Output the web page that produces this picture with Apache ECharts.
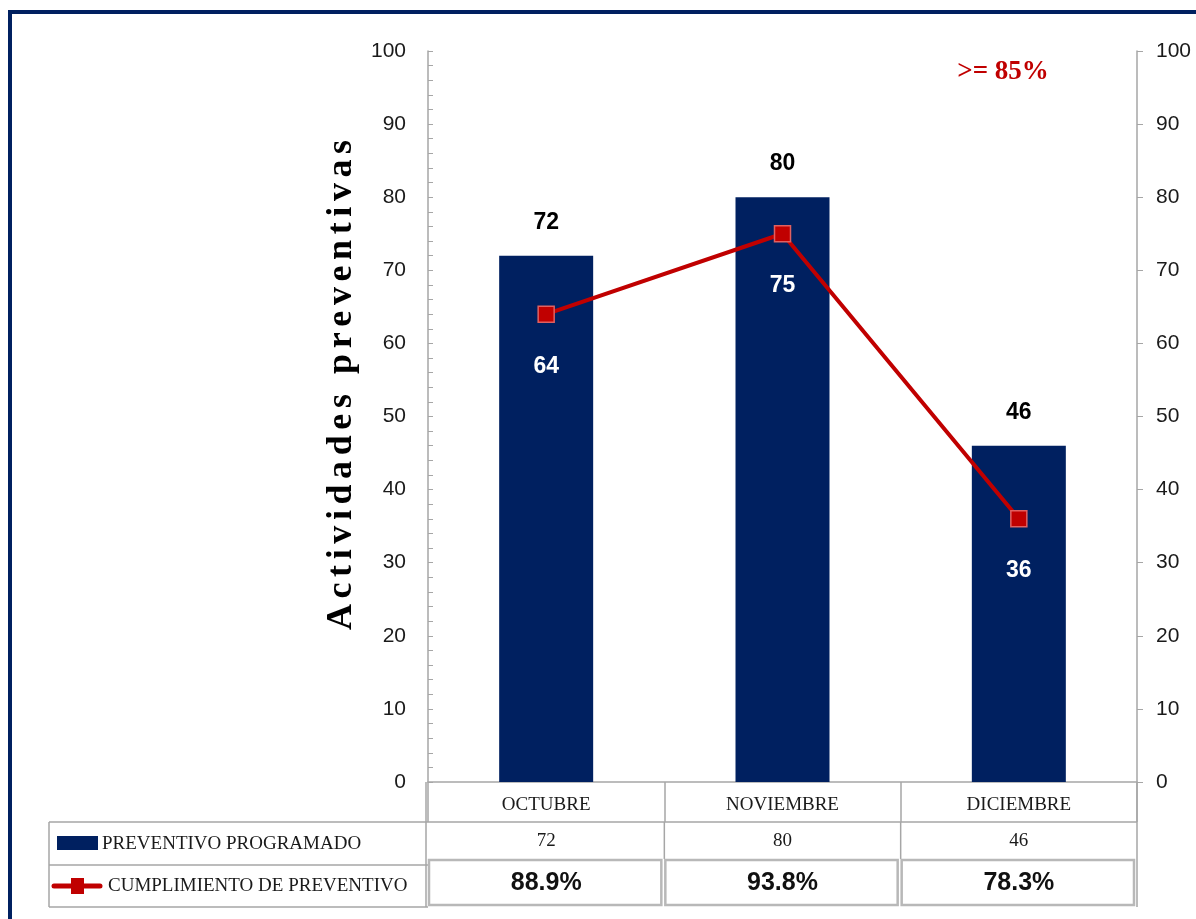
<!DOCTYPE html>
<html>
<head>
<meta charset="utf-8">
<script src="https://cdn.jsdelivr.net/npm/echarts@6/dist/echarts.min.js"></script>
<style>
  html, body { margin: 0; padding: 0; background: #fff; }
  #chart { width: 1196px; height: 919px; }
</style>
</head>
<body>
<div id="chart"></div>
<script>
// Monthly preventive maintenance: scheduled vs. executed activities
const categories = ['OCTUBRE', 'NOVIEMBRE', 'DICIEMBRE'];
const programado = [72, 80, 46];          // PREVENTIVO PROGRAMADO (bars)
const ejecutado = [64, 75, 36];           // executed activities (line)
const cumplimiento = [88.9, 93.8, 78.3];  // CUMPLIMIENTO DE PREVENTIVO (%)
const axisMin = 0, axisMax = 100, axisStep = 10;
const axisTitle = 'Actividades preventivas';
const metaLabel = '>= 85%';

const NAVY = '#002060';
const RED = '#C00000';
const GRID_GRAY = '#a6a6a6';
const NUM_FONT = '"Liberation Sans Narrow", "Liberation Sans", Arial, sans-serif';
const SERIF = '"Liberation Serif", "Times New Roman", serif';

const chart = echarts.init(document.getElementById('chart'), null, { renderer: 'canvas' });

const grid = { left: 428, right: 59, top: 51, bottom: 137 };

chart.setOption({
  animation: false,
  backgroundColor: '#ffffff',
  grid: grid,
  xAxis: {
    type: 'category',
    data: categories,
    axisLine: { show: true, lineStyle: { color: GRID_GRAY, width: 1.5 } },
    axisTick: { show: true, length: 40, lineStyle: { color: GRID_GRAY, width: 1.5 } },
    axisLabel: { margin: 14, fontFamily: SERIF, fontSize: 19, color: '#1a1a1a' }
  },
  yAxis: [
    {
      type: 'value', min: axisMin, max: axisMax, interval: axisStep,
      axisLine: { show: true, lineStyle: { color: GRID_GRAY, width: 1.5 } },
      axisTick: { show: true, inside: true, length: 5, lineStyle: { color: GRID_GRAY } },
      minorTick: { show: true, splitNumber: 5, length: 5, lineStyle: { color: GRID_GRAY } },
      splitLine: { show: false },
      axisLabel: { margin: 22, fontFamily: NUM_FONT, fontSize: 21, color: '#1a1a1a' }
    },
    {
      type: 'value', min: axisMin, max: axisMax, interval: axisStep, position: 'right',
      axisLine: { show: true, lineStyle: { color: GRID_GRAY, width: 1.5 } },
      axisTick: { show: true, inside: false, length: 6, lineStyle: { color: GRID_GRAY } },
      splitLine: { show: false },
      axisLabel: { margin: 19, fontFamily: NUM_FONT, fontSize: 21, color: '#1a1a1a' }
    }
  ],
  series: [
    {
      name: 'PREVENTIVO PROGRAMADO',
      type: 'bar',
      data: programado,
      barWidth: 94,
      itemStyle: { color: NAVY },
      label: {
        show: true, position: 'top', distance: 22,
        fontFamily: NUM_FONT, fontWeight: 'bold', fontSize: 23, color: '#000'
      },
      z: 2
    },
    {
      name: 'CUMPLIMIENTO DE PREVENTIVO',
      type: 'line',
      data: ejecutado,
      lineStyle: { color: RED, width: 4 },
      symbol: 'rect', symbolSize: 16,
      itemStyle: { color: RED, borderColor: '#e06060', borderWidth: 1.5 },
      label: {
        show: true, position: 'bottom', distance: 32,
        fontFamily: NUM_FONT, fontWeight: 'bold', fontSize: 23, color: '#ffffff'
      },
      z: 3
    }
  ]
});

// Vertical axis title, set letter by letter so it can be tracked out
function spacedTitle(text, font, spacing, cx, cy) {
  const ctx = document.createElement('canvas').getContext('2d');
  ctx.font = font;
  const widths = Array.from(text).map(function (ch) { return ctx.measureText(ch).width; });
  const total = widths.reduce(function (a, b) { return a + b; }, 0) + spacing * (widths.length - 1);
  const children = [];
  let x = -total / 2;
  Array.from(text).forEach(function (ch, i) {
    children.push({ type: 'text', x: x, y: 0,
      style: { text: ch, font: font, fill: '#000', verticalAlign: 'middle' } });
    x += widths[i] + spacing;
  });
  return { type: 'group', x: cx, y: cy, rotation: Math.PI / 2, children: children };
}

// Data table beneath the plot area, plus frame and target note
function buildGraphics() {
  const W = 1196, H = 919;
  const gLeft = grid.left, gRight = W - grid.right, gBottom = H - grid.bottom;
  const row1Bottom = gBottom + 40;   // category row
  const row2Bottom = row1Bottom + 37; // programado row
  const tableBottom = row1Bottom + 85;
  const legendLeft = 49;
  const catW = (gRight - gLeft) / categories.length;
  const lineGray = { stroke: GRID_GRAY, lineWidth: 1.5 };
  const els = [];

  // outer frame
  els.push({ type: 'rect', shape: { x: 10, y: 12, width: W + 20, height: H + 20 },
    style: { fill: 'none', stroke: NAVY, lineWidth: 4 }, z: 100 });

  // axis title
  els.push(spacedTitle(axisTitle, 'bold 36px ' + SERIF, 5.6, 342, 385));

  // target note
  els.push({ type: 'text', x: 1003, y: 72,
    style: { text: metaLabel, fill: RED, font: 'bold 27px ' + SERIF, align: 'center', verticalAlign: 'middle' } });

  // table grid lines
  els.push({ type: 'line', shape: { x1: legendLeft, y1: row1Bottom, x2: gRight, y2: row1Bottom }, style: lineGray });
  els.push({ type: 'line', shape: { x1: legendLeft, y1: row1Bottom, x2: legendLeft, y2: tableBottom }, style: lineGray });
  els.push({ type: 'line', shape: { x1: legendLeft, y1: tableBottom, x2: gLeft, y2: tableBottom }, style: lineGray });
  els.push({ type: 'line', shape: { x1: legendLeft, y1: row2Bottom + 6, x2: gLeft, y2: row2Bottom + 6 }, style: lineGray });
  els.push({ type: 'line', shape: { x1: gLeft - 2, y1: gBottom, x2: gLeft - 2, y2: tableBottom }, style: lineGray });
  els.push({ type: 'line', shape: { x1: gRight, y1: gBottom, x2: gRight, y2: tableBottom }, style: lineGray });
  for (let i = 1; i < categories.length; i++) {
    const x = gLeft + catW * i;
    els.push({ type: 'line', shape: { x1: x, y1: row1Bottom, x2: x, y2: row2Bottom }, style: lineGray });
  }

  // legend keys
  els.push({ type: 'rect', shape: { x: 57, y: 836, width: 41, height: 14 }, style: { fill: NAVY } });
  els.push({ type: 'text', x: 102, y: (row1Bottom + row2Bottom + 6) / 2 + 1,
    style: { text: 'PREVENTIVO PROGRAMADO', fill: '#1a1a1a', font: '19px ' + SERIF, verticalAlign: 'middle' } });
  const y3 = (row2Bottom + 6 + tableBottom) / 2;
  els.push({ type: 'line', shape: { x1: 54, y1: y3, x2: 100, y2: y3 },
    style: { stroke: RED, lineWidth: 5, lineCap: 'round' } });
  els.push({ type: 'rect', shape: { x: 71, y: y3 - 8, width: 13, height: 16 }, style: { fill: RED } });
  els.push({ type: 'text', x: 108, y: y3,
    style: { text: 'CUMPLIMIENTO DE PREVENTIVO', fill: '#1a1a1a', font: '19px ' + SERIF, verticalAlign: 'middle' } });

  // value cells
  categories.forEach(function (c, i) {
    const cx = chart.convertToPixel({ xAxisIndex: 0 }, c);
    els.push({ type: 'text', x: cx, y: (row1Bottom + row2Bottom) / 2 + 1,
      style: { text: String(programado[i]), fill: '#1a1a1a', font: '19px ' + SERIF, align: 'center', verticalAlign: 'middle' } });
    const x0 = gLeft + catW * i;
    els.push({ type: 'rect', shape: { x: x0 + 1, y: row2Bottom + 1, width: catW - 4, height: tableBottom - row2Bottom - 3 },
      style: { fill: 'none', stroke: '#b8b8b8', lineWidth: 2.5 } });
    els.push({ type: 'text', x: cx, y: (row2Bottom + tableBottom) / 2,
      style: { text: cumplimiento[i].toFixed(1) + '%', fill: '#111', font: 'bold 25px ' + NUM_FONT, align: 'center', verticalAlign: 'middle' } });
  });

  chart.setOption({ graphic: els });
}
buildGraphics();
</script>
</body>
</html>
